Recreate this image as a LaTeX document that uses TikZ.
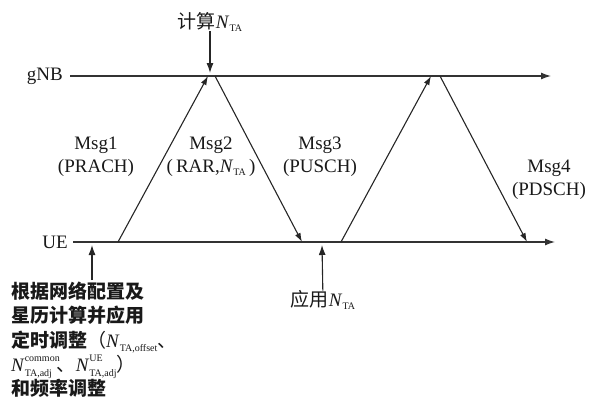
\documentclass[tikz,border=0pt]{standalone}
\usepackage{fontspec}
\setmainfont{Liberation Serif}
\newfontfamily\cjk{Noto Sans CJK SC}
\usetikzlibrary{arrows.meta}

\newcommand\nta{\textit{N}\raisebox{-0.12em}{\fontsize{10}{10}\selectfont TA}}
\newcommand\nsub[1]{\textit{N}\raisebox{-0.25em}{\fontsize{10}{10}\selectfont #1}}
\newcommand\nss[2]{\textit{N}\raisebox{-0.25em}{\fontsize{10}{10}\selectfont\rlap{\raisebox{1.45em}{#1}}#2}}
\lineskiplimit=-20pt

\begin{document}
\begin{tikzpicture}[x=1pt,y=-1pt,
		font=\fontsize{19}{23}\selectfont,
		>={Latex[length=10pt,width=7pt]},
		axis/.style={->, line width=1.3pt, black!80},
		msg/.style={-{Latex[length=9pt,width=6pt]}, line width=1.1pt, black!85},
		ptr/.style={->, line width=1.1pt, black!85},
		lbl/.style={align=center, inner sep=0pt, text=black!90},
		side/.style={inner sep=0pt, text=black!90}
		]
		\useasboundingbox (0,0) rectangle (594,399);
		
		\coordinate (g0) at (70,76);
		\coordinate (gend) at (551,76);
		\coordinate (u0) at (73,242);
		\coordinate (uend) at (555,242);
		\node[side, anchor=east] (gnb) at (63,76) {gNB};
		\node[side, anchor=east] (ue) at (68,242) {UE};
		\draw[axis] (g0) -- (gend);
		\draw[axis] (u0) -- (uend);
		
		\coordinate (u1) at (118,242);
		\coordinate (g1) at (208,76);
		\coordinate (g2) at (215,76);
		\coordinate (u2) at (302,242);
		\coordinate (u3) at (341,242);
		\coordinate (g3) at (431,76);
		\coordinate (g4) at (440,76);
		\coordinate (u4) at (527,242);
		\draw[msg] (u1) -- (g1);
		\draw[msg] (g2) -- (u2);
		\draw[msg] (u3) -- (g3);
		\draw[msg] (g4) -- (u4);
		
		\node[lbl] (m1) at (96,157) {Msg1\\(PRACH)};
		\node[lbl] (m2) at (211,157) {Msg2\\(\,RAR,\nta\,)};
		\node[lbl] (m3) at (320,157) {Msg3\\(PUSCH)};
		\node[lbl] (m4) at (549,180) {Msg4\\(PDSCH)};
		
		\node[side] (calc) at (210,22) {{\cjk 计算}\nta};
		\coordinate (gc) at (210,73);
		\draw[ptr] (calc) -- (gc);
		
		\node[side] (apply) at (323,300) {{\cjk 应用}\nta};
		\coordinate (ua) at (322,245);
		\draw[ptr] (apply) -- (ua);
		
		\node[side, anchor=north west, align=left, font=\fontsize{19}{24.2}\selectfont] (cfg) at (11,282)
		{{\cjk\bfseries 根据网络配置及}\\
			{\cjk\bfseries 星历计算并应用}\\
			{\cjk\bfseries 定时调整}{\cjk （}\nsub{TA,offset}{\cjk 、}\\
			\nss{common}{TA,adj}\ {\cjk 、}\nss{UE}{TA,adj}{\cjk ）}\\
			{\cjk\bfseries 和频率调整}};
		\coordinate (uc) at (92,245);
		\draw[ptr] ([yshift=2pt]cfg.north -| uc) -- (uc);
\end{tikzpicture}
\end{document}
